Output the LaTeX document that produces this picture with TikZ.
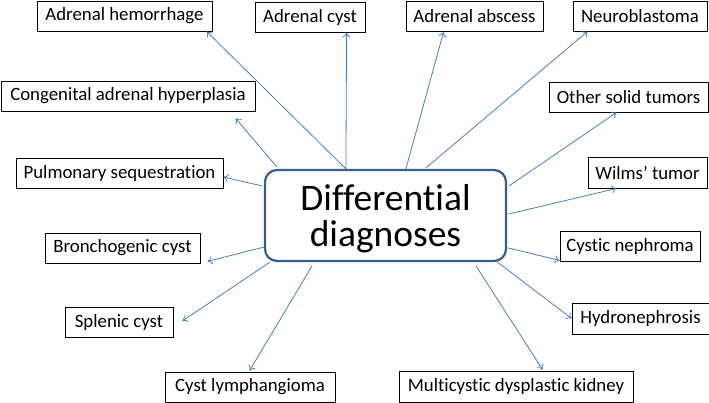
\documentclass[tikz,border=0pt]{standalone}
\usepackage{fontspec}
\setmainfont{Carlito}[Ligatures=NoCommon]
\usetikzlibrary{calc,arrows.meta}
\definecolor{arrblue}{RGB}{74,126,187}
\definecolor{boxblue}{RGB}{56,93,138}
\begin{document}
\begin{tikzpicture}[x=1pt,y=-1pt,
  lbl/.style={draw=black,line width=0.8pt,inner sep=0pt,font=\fontsize{18.8}{21}\selectfont,fill=white},
  arr/.style={draw=arrblue,line width=0.8pt,-{To[length=5pt,width=8pt]}}]
\useasboundingbox (0,0) rectangle (709,402);
% centre box
\node[draw=boxblue,line width=2.2pt,rounded corners=12pt,minimum width=241pt,minimum height=91pt,inner sep=0pt] (c) at (385.5,215.5) {};
\node[inner sep=0pt,align=center,font=\fontsize{37.5}{36}\selectfont] (ct) at ($(c.center)+(0,3.5)$) {Differential\\diagnoses};
% label boxes (centre, width, height)
\node[lbl,minimum width=175pt,minimum height=30pt] (ah) at (124.5,16) {Adrenal hemorrhage};
\node[lbl,minimum width=110pt,minimum height=30pt] (ac) at (310,17) {Adrenal cyst};
\node[lbl,minimum width=137pt,minimum height=30pt] (aa) at (474.5,16.5) {Adrenal abscess};
\node[lbl,minimum width=134pt,minimum height=30pt] (nb) at (640,16) {Neuroblastoma};
\node[lbl,minimum width=254pt,minimum height=30pt] (cah) at (128,96) {Congenital adrenal hyperplasia};
\node[lbl,minimum width=159pt,minimum height=30pt] (os) at (628.5,97) {Other solid tumors};
\node[lbl,minimum width=207pt,minimum height=30pt] (ps) at (119.5,173) {Pulmonary sequestration};
\node[lbl,minimum width=119pt,minimum height=31pt] (wt) at (647.5,172.5) {Wilms’ tumor};
\node[lbl,minimum width=155pt,minimum height=30pt] (bc) at (122.5,248) {Bronchogenic cyst};
\node[lbl,minimum width=140pt,minimum height=30pt] (cn) at (630,246) {Cystic nephroma};
\node[lbl,minimum width=108pt,minimum height=30pt] (sc) at (119,322) {Splenic cyst};
\node[lbl,minimum width=137pt,minimum height=31pt] (hy) at (640.5,318.5) {Hydronephrosis};
\node[lbl,minimum width=170pt,minimum height=30pt] (cl) at (250,387) {Cyst lymphangioma};
\node[lbl,minimum width=234pt,minimum height=31pt] (mk) at (516,386.5) {Multicystic dysplastic kidney};
% connectors
\draw[arr] ($(c.north west)+(82,0)$) -- ($(ah.south west)+(170,0)$);
\draw[arr] ($(c.north west)+(82,0)$) -- ($(ac.south west)+(92,0)$);
\draw[arr] ($(c.north west)+(142,0)$) -- ($(aa.south west)+(38,0)$);
\draw[arr] ($(c.north west)+(162,-1)$) -- ($(nb.south west)+(15,0)$);
\draw[arr] ($(c.north west)+(13,-2)$) -- ($(cah.south west)+(235,7)$);
\draw[arr] ($(c.north west)+(-2,17)$) -- ($(ps.east)+(0,4)$);
\draw[arr] ($(c.north east)+(2,17)$) -- ($(os.south west)+(68,0)$);
\draw[arr] ($(c.north east)+(2,45)$) -- ($(wt.south west)+(29,0)$);
\draw[arr] ($(c.north east)+(1,79)$) -- ($(cn.south west)+(0,-1)$);
\draw[arr] ($(c.south east)+(-11,-1)$) -- (hy.west);
\draw[arr] ($(c.south east)+(-31,4)$) -- ($(mk.north west)+(144,-1)$);
\draw[arr] ($(c.south west)+(48,4)$) -- ($(cl.north west)+(85,-1)$);
\draw[arr] ($(c.south west)+(6,0)$) -- ($(sc.east)+(9,-1)$);
\draw[arr] ($(c.south west)+(0,-15)$) -- ($(bc.south east)+(7,-2)$);
\end{tikzpicture}
\end{document}
